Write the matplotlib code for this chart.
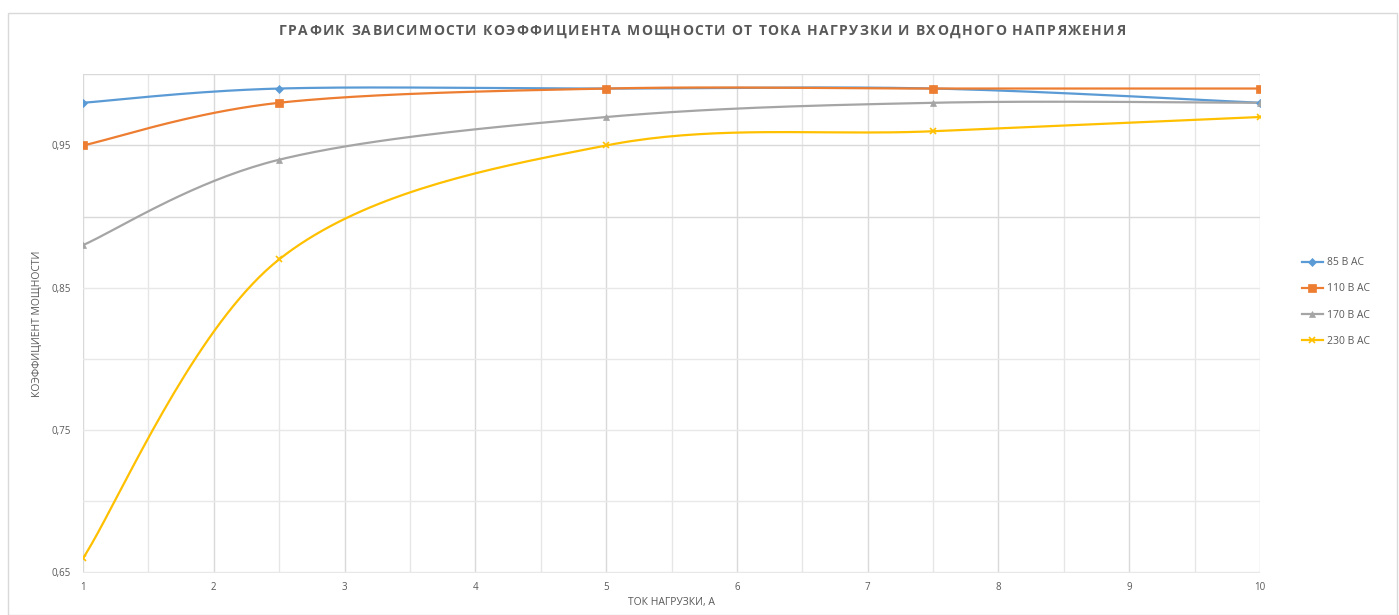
import numpy as np
from matplotlib import pyplot as plt
from matplotlib.patches import Rectangle
from matplotlib.font_manager import FontProperties
from matplotlib.ticker import FuncFormatter, FixedLocator

# load current, A
current = [1, 2.5, 5, 7.5, 10]

# power factor per input voltage
pf_85 = [0.98, 0.99, 0.99, 0.99, 0.98]
pf_110 = [0.95, 0.98, 0.99, 0.99, 0.99]
pf_170 = [0.88, 0.94, 0.97, 0.98, 0.98]
pf_230 = [0.66, 0.87, 0.95, 0.96, 0.97]

series_labels = ['85 В АС', '110 В АС', '170 В АС', '230 В АС']

TITLE = 'ГРАФИК ЗАВИСИМОСТИ КОЭФФИЦИЕНТА МОЩНОСТИ ОТ ТОКА НАГРУЗКИ И ВХОДНОГО НАПРЯЖЕНИЯ'
TEXT_COLOR = '#595959'
W, H = 1399, 615

plt.rcParams['font.family'] = ['Open Sans', 'DejaVu Sans']


def smooth(xs, ys, n=40):
    '''
    Excel-like smoothed line: Catmull-Rom segments drawn as cubic beziers
    '''
    p = np.column_stack([xs, ys]).astype(float)
    p = np.vstack([p[0], p, p[-1]])  # repeat ends
    out = []
    t = np.linspace(0, 1, n)[:, None]
    for i in range(1, len(p) - 2):
        p0, p3 = p[i], p[i + 1]
        c1 = p0 + (p[i + 1] - p[i - 1]) / 6
        c2 = p3 - (p[i + 2] - p[i]) / 6
        seg = (1 - t)**3 * p0 + 3 * (1 - t)**2 * t * c1 + 3 * (1 - t) * t**2 * c2 + t**3 * p3
        out.append(seg if i == 1 else seg[1:])
    out = np.vstack(out)
    return out[:, 0], out[:, 1]


def spaced_text(fig, cx, cy, s, spacing, size=10, weight='normal', color='k'):
    # draw text char by char so letters can be spread out (pixel coords)
    r = fig.canvas.get_renderer()
    prop = FontProperties(family=['Open Sans', 'DejaVu Sans'], size=size, weight=weight)
    widths = [r.get_text_width_height_descent(c, prop, ismath=False)[0] for c in s]
    total = sum(widths) + spacing * (len(s) - 1)
    x = cx - total / 2
    for c, w in zip(s, widths):
        fig.text(x / W, 1 - cy / H, c, ha='left', va='center', fontproperties=prop, color=color)
        x += w + spacing


fig = plt.figure(figsize=(W / 100, H / 100), dpi=100)
ax = fig.add_axes([83 / W, 1 - 572.5 / H, (1260 - 83) / W, (572.5 - 74.3) / H])

# chart area border
fig.patches.append(Rectangle((8 / W, 0), (1397 - 8) / W, 1 - 13 / H, transform=fig.transFigure,
                             fill=False, edgecolor='#d9d9d9', linewidth=1))

# gridlines
for gx in np.arange(1, 10.01, 0.5):
    ax.axvline(gx, color='#d9d9d9' if gx % 1 == 0 else '#e6e6e6', linewidth=1, zorder=0)
for gy in np.arange(0.65, 1.001, 0.05):
    ax.axhline(gy, color='#d9d9d9' if gy > 0.88 else '#e8e8e8', linewidth=1, zorder=0)

colors = ['#5B9BD5', '#ED7D31', '#A5A5A5', '#FFC000']
markers = ['D', 's', '^', 'x']
msizes = [4, 6, 5, 5]
for vals, lab, col, mk, ms in zip([pf_85, pf_110, pf_170, pf_230], series_labels, colors, markers, msizes):
    sx, sy = smooth(current, vals)
    ax.plot(sx, sy, color=col, linewidth=1.6, zorder=3)
    ax.plot(current, vals, linestyle='none', marker=mk, markersize=ms, color=col, zorder=4,
            markeredgewidth=1.2 if mk == 'x' else 0.5)
    # legend proxy
    ax.plot([], [], color=col, linewidth=1.6, marker=mk, markersize=ms, label=lab,
            markeredgewidth=1.2 if mk == 'x' else 0.5)

ax.set_xlim(1, 10)
ax.set_ylim(0.65, 1.0)
ax.xaxis.set_major_locator(FixedLocator(range(1, 11)))
ax.yaxis.set_major_locator(FixedLocator([0.65, 0.75, 0.85, 0.95]))
ax.yaxis.set_major_formatter(FuncFormatter(lambda v, p: ('%.2f' % v).replace('.', ',')))
ax.tick_params(length=0, labelsize=7, colors=TEXT_COLOR)
ax.tick_params(axis='x', pad=7)
ax.tick_params(axis='y', pad=9)
for sp in ax.spines.values():
    sp.set_visible(False)

ax.set_xlabel('ТОК НАГРУЗКИ, А', fontsize=7.5, color=TEXT_COLOR, labelpad=3)
ax.set_ylabel('КОЭФФИЦИЕНТ МОЩНОСТИ', fontsize=7.5, color=TEXT_COLOR, labelpad=6)

leg = fig.legend(loc='center left', bbox_to_anchor=(1302 / W, 1 - 302 / H), frameon=False,
                 fontsize=7.5, handlelength=2, handletextpad=0.4, labelspacing=1.45,
                 borderpad=0, borderaxespad=0)
for t in leg.get_texts():
    t.set_color(TEXT_COLOR)

spaced_text(fig, 702, 31, TITLE, 1.35, size=10, weight='bold', color=TEXT_COLOR)

fig.savefig('out.png', dpi=100)
